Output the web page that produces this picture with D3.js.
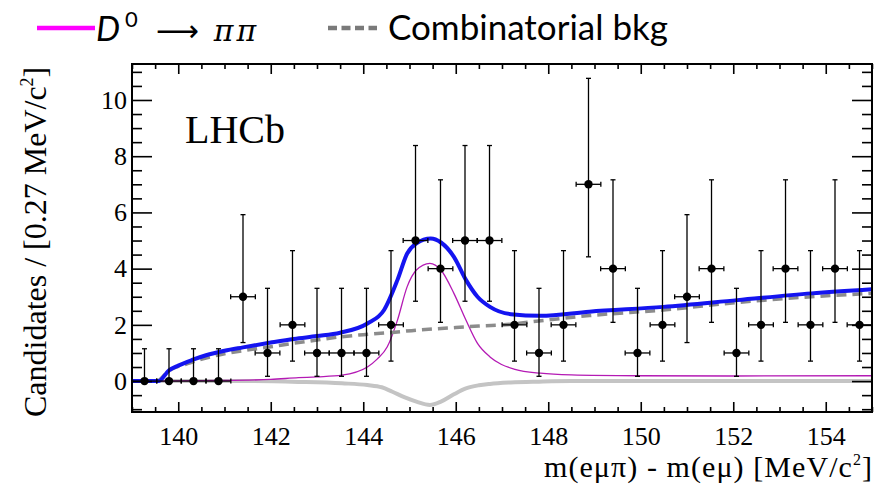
<!DOCTYPE html>
<html><head><meta charset="utf-8">
<script src="https://cdn.jsdelivr.net/npm/d3@7"></script>
<style>
html,body{margin:0;padding:0;background:#fff;}
svg{display:block;}
</style></head>
<body>
<svg id="chart" width="884" height="488"></svg>
<script>
// ---------------- data ----------------
const binCenters = [139.27,139.80,140.33,140.87,141.40,141.93,142.47,143.00,143.53,144.07,
                    144.60,145.13,145.67,146.20,146.73,147.27,147.80,148.33,148.87,149.40,
                    149.93,150.47,151.00,151.53,152.07,152.60,153.13,153.67,154.20,154.73];
const binHalfWidth = 0.267;
const counts  = [0,0,0,0,3,1,2,1,1,1,2,5,4,5,5,2,1,2,7,4,1,2,3,4,1,2,4,2,4,2];
const errLow  = [0,0,0,0,1.63,0.83,1.29,0.83,0.83,0.83,1.29,2.16,1.91,2.16,2.16,1.29,0.83,1.29,2.58,1.91,0.83,1.29,1.63,1.91,0.83,1.29,1.91,1.29,1.91,1.29];
const errHigh = [1.15,1.15,1.15,1.15,2.92,2.30,2.64,2.30,2.30,2.30,2.64,3.38,3.16,3.38,3.38,2.64,2.30,2.64,3.77,3.16,2.30,2.64,2.92,3.16,2.30,2.64,3.16,2.64,3.16,2.64];

// total fit (blue)
const totalX = [139.0,139.57,139.8,140.0,140.3,140.6,141.0,141.4,142.0,142.5,143.0,143.5,144.09,144.45,144.74,144.95,145.15,145.46,145.68,145.96,146.22,146.47,146.74,147.19,147.83,148.89,150.49,152.09,153.69,155.0];
const totalY = [0,0,0.38,0.55,0.75,0.92,1.08,1.2,1.37,1.5,1.6,1.72,2.05,2.53,3.6,4.54,4.9,5.07,4.93,4.42,3.6,3.0,2.64,2.38,2.32,2.47,2.64,2.88,3.12,3.27];
// signal D0 -> pi pi (magenta)
const sigX = [139.57,140.0,141.0,142.0,142.6,143.0,143.54,144.09,144.3,144.52,144.74,144.95,145.15,145.44,145.68,145.96,146.22,146.47,146.74,146.98,147.28,147.83,148.5,149.96,152.0,155.0];
const sigY = [0,0.01,0.02,0.06,0.12,0.15,0.21,0.5,0.78,1.22,2.17,3.36,3.95,4.19,3.95,3.12,2.17,1.34,0.86,0.6,0.42,0.28,0.22,0.19,0.18,0.19];
// combinatorial background (grey dashed)
const bkgX = [139.57,139.8,140.2,140.6,141.0,141.4,142.0,142.47,143.0,143.54,144.0,144.63,145.2,145.68,146.5,147.19,147.55,148.89,150.49,152.06,153.69,155.0];
const bkgY = [0,0.36,0.62,0.82,0.97,1.08,1.22,1.34,1.46,1.58,1.65,1.73,1.82,1.87,1.96,2.02,2.09,2.33,2.53,2.79,3.0,3.12];
// negative component (light grey)
const negX = [139.57,141.5,142.6,143.54,144.09,144.4,144.63,144.9,145.15,145.44,145.68,145.95,146.22,146.5,146.74,147.19,147.8,148.5,155.0];
const negY = [0,0,-0.03,-0.08,-0.14,-0.22,-0.38,-0.58,-0.73,-0.85,-0.73,-0.48,-0.26,-0.15,-0.1,-0.05,-0.02,0,0];

const xMajorTicks = [140,142,144,146,148,150,152,154];
const yMajorTicks = [0,2,4,6,8,10];

// ---------------- layout ----------------
const svg = d3.select("#chart");
const L = 132, R = 872, T = 64, B = 412;
const x = d3.scaleLinear().domain([139,155]).range([L,R]);
const y = d3.scaleLinear().domain([-1.1,11.28]).range([B,T]);
const serif = "'Liberation Serif','Times New Roman',serif";
const sans = "Lato,'Open Sans',sans-serif";

const xMinor = d3.range(139,155.01,0.5).filter(v => !xMajorTicks.includes(v));
const yMinor = d3.range(-1,11.01,0.5).filter(v => !yMajorTicks.includes(v));

svg.append("defs").append("clipPath").attr("id","clip")
  .append("rect").attr("x",L).attr("y",T).attr("width",R-L).attr("height",B-T);

const plot = svg.append("g").attr("clip-path","url(#clip)");
const line = (xs,ys) => d3.line().x(d=>x(d[0])).y(d=>y(d[1])).curve(d3.curveMonotoneX)(xs.map((v,i)=>[v,ys[i]]));

plot.append("path").attr("d",line(negX,negY)).attr("fill","none").attr("stroke","#c4c4c4").attr("stroke-width",4);
plot.append("path").attr("d",line(sigX,sigY)).attr("fill","none").attr("stroke","#b41ab4").attr("stroke-width",1.3);
plot.append("path").attr("d",line(bkgX,bkgY)).attr("fill","none").attr("stroke","#8c8c8c").attr("stroke-width",3.5).attr("stroke-dasharray","10,6");
plot.append("path").attr("d",line(totalX,totalY)).attr("fill","none").attr("stroke","#1414f0").attr("stroke-width",4);

// data points
const pts = plot.append("g").attr("stroke","#000").attr("stroke-width",1.3);
binCenters.forEach((c,i) => {
  const cx = x(c), cy = y(counts[i]);
  const xl = x(c-binHalfWidth), xr = x(c+binHalfWidth);
  const yl = y(counts[i]-errLow[i]), yh = y(counts[i]+errHigh[i]);
  pts.append("line").attr("x1",xl).attr("x2",xr).attr("y1",cy).attr("y2",cy);
  pts.append("line").attr("x1",xl).attr("x2",xl).attr("y1",cy-2.5).attr("y2",cy+2.5);
  pts.append("line").attr("x1",xr).attr("x2",xr).attr("y1",cy-2.5).attr("y2",cy+2.5);
  pts.append("line").attr("x1",cx).attr("x2",cx).attr("y1",yl).attr("y2",yh);
  pts.append("line").attr("x1",cx-2.5).attr("x2",cx+2.5).attr("y1",yh).attr("y2",yh);
  if (errLow[i] > 0) pts.append("line").attr("x1",cx-2.5).attr("x2",cx+2.5).attr("y1",yl).attr("y2",yl);
  pts.append("circle").attr("cx",cx).attr("cy",cy).attr("r",4.2).attr("fill","#000").attr("stroke","none");
});

// axes
function styleAxis(g){ g.select(".domain").remove(); g.attr("font-family",null); g.selectAll(".tick line").attr("stroke","#000").attr("stroke-width",1.6); }
function styleLabels(g){ g.selectAll("text").style("font-family",serif).style("font-size","26px").attr("fill","#000"); }
svg.append("g").attr("transform",`translate(0,${B})`)
  .call(d3.axisBottom(x).tickValues(xMajorTicks).tickSize(-10).tickPadding(15).tickFormat(d3.format("d")))
  .call(styleAxis).call(styleLabels);
svg.append("g").attr("transform",`translate(0,${B})`)
  .call(d3.axisBottom(x).tickValues(xMinor).tickSize(-5).tickFormat("")).call(styleAxis);
svg.append("g").attr("transform",`translate(0,${T})`)
  .call(d3.axisTop(x).tickValues(xMajorTicks).tickSize(-10).tickFormat("")).call(styleAxis);
svg.append("g").attr("transform",`translate(0,${T})`)
  .call(d3.axisTop(x).tickValues(xMinor).tickSize(-5).tickFormat("")).call(styleAxis);
svg.append("g").attr("transform",`translate(${L},0)`)
  .call(d3.axisLeft(y).tickValues(yMajorTicks).tickSize(-20).tickPadding(5).tickFormat(d3.format("d")))
  .call(styleAxis).call(styleLabels);
svg.append("g").attr("transform",`translate(${L},0)`)
  .call(d3.axisLeft(y).tickValues(yMinor).tickSize(-10).tickFormat("")).call(styleAxis);
svg.append("g").attr("transform",`translate(${R},0)`)
  .call(d3.axisRight(y).tickValues(yMajorTicks).tickSize(-20).tickFormat("")).call(styleAxis);
svg.append("g").attr("transform",`translate(${R},0)`)
  .call(d3.axisRight(y).tickValues(yMinor).tickSize(-10).tickFormat("")).call(styleAxis);

svg.append("rect").attr("x",L).attr("y",T).attr("width",R-L).attr("height",B-T)
  .attr("fill","none").attr("stroke","#000").attr("stroke-width",2);

// axis titles
const xt = svg.append("text").attr("x",R).attr("y",477).attr("text-anchor","end")
  .attr("textLength",328).attr("lengthAdjust","spacing")
  .style("font-family",serif).style("font-size","30px").attr("fill","#000");
xt.append("tspan").text("m(eμπ) - m(eμ) [MeV/c");
xt.append("tspan").style("font-size","16px").attr("dy",-12).text("2");
xt.append("tspan").attr("dy",12).text("]");

const yt = svg.append("text").attr("transform","translate(46,417) rotate(-90)")
  .style("font-family",serif).style("font-size","32px").attr("fill","#000");
yt.append("tspan").text("Candidates / [0.27 MeV/c");
yt.append("tspan").style("font-size","18px").attr("dy",-13).text("2");
yt.append("tspan").attr("dy",13).text("]");

svg.append("text").attr("x",185).attr("y",143).style("font-family",serif).style("font-size","40px").attr("fill","#000").text("LHCb");

// legend
svg.append("line").attr("x1",37).attr("x2",95).attr("y1",28).attr("y2",28).attr("stroke","#ff00ff").attr("stroke-width",4.5);
const lg = svg.append("text").attr("x",96).attr("y",41).style("font-family",sans).style("font-size","34px").attr("fill","#000");
lg.append("tspan").style("font-style","italic").text("D");
lg.append("tspan").style("font-size","22px").attr("dy",-14).attr("dx",5).text("0");
lg.append("tspan").attr("dy",14).attr("dx",18).style("font-family","'DejaVu Sans',sans-serif").style("font-size","30px").text("⟶");
lg.append("tspan").attr("dx",15).style("font-style","italic").style("font-family","'DejaVu Serif',serif").style("font-size","30px").style("letter-spacing","3px").text("ππ");
svg.append("line").attr("x1",328).attr("x2",377).attr("y1",28).attr("y2",28).attr("stroke","#7a7a7a").attr("stroke-width",4.5).attr("stroke-dasharray","9,4.5");
svg.append("text").attr("x",388).attr("y",40).style("font-family",sans).style("font-size","35px").attr("fill","#000").text("Combinatorial bkg");
</script>
</body></html>
